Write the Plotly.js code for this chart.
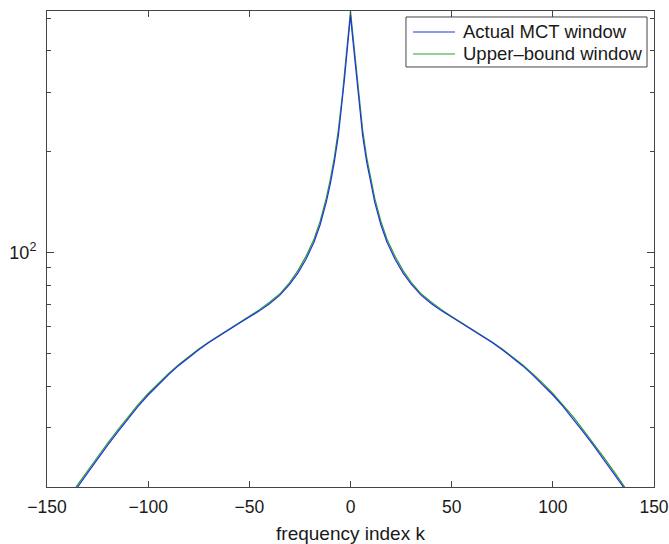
<!DOCTYPE html>
<html>
<head>
<meta charset="utf-8">
<script src="https://cdn.plot.ly/plotly-3.0.1.min.js"></script>
<style>
  html, body { margin: 0; padding: 0; background: #ffffff; }
  #chart { width: 669px; height: 544px; }
</style>
</head>
<body>
<div id="chart"></div>
<script>
// frequency index k (one side; the window is symmetric about k = 0)
const kHalf = [0, 1, 2, 3, 4, 5, 6, 8, 10, 12, 15, 18, 22, 26, 30, 35, 40, 45, 50, 55, 60, 65, 70, 75, 80, 85, 90, 95, 100, 105, 110, 115, 120, 125, 130, 135, 140, 145, 150];
// Actual MCT window magnitude
const actualHalf = [510, 440, 380, 328, 284, 250, 223, 186, 160, 141, 121, 107.5, 95.5, 86.8, 80.5, 74.5, 70.4, 67.0, 64.2, 61.5, 59.0, 56.4, 53.9, 51.3, 48.7, 46.0, 43.2, 40.4, 37.6, 34.8, 32.0, 29.2, 26.65, 24.25, 22.0, 19.95, 18.0, 16.25, 14.6];
// Upper-bound window magnitude
const upperHalf = [525, 457, 395, 341, 295, 260, 232, 192, 165, 145, 124, 109.7, 97.4, 88.3, 81.5, 75.2, 71.1, 67.5, 64.5, 61.8, 59.2, 56.6, 54.1, 51.6, 49.0, 46.3, 43.5, 40.8, 38.0, 35.2, 32.4, 29.6, 27.05, 24.6, 22.35, 20.25, 18.3, 16.5, 14.8];

const seriesNames = ['Actual MCT window', 'Upper\u2013bound window'];
const seriesColors = ['#2430e8', '#2aa02a'];

const yMinorTicks = [20, 30, 40, 50, 60, 70, 80, 90, 200, 300, 400, 500];
const yMajorTicks = [100];
const yMajorLabels = ['10<sup>2</sup>'];
const xTicks = [-150, -100, -50, 0, 50, 100, 150];

function mirrorSeries(ks, vs) {
  const x = [], y = [];
  for (let i = ks.length - 1; i > 0; i--) { x.push(-ks[i]); y.push(vs[i]); }
  for (let i = 0; i < ks.length; i++) { x.push(ks[i]); y.push(vs[i]); }
  return {x, y};
}
const A = mirrorSeries(kHalf, actualHalf);
const U = mirrorSeries(kHalf, upperHalf);

const fontFam = 'Liberation Sans, Arial, Helvetica, sans-serif';
const axisCol = '#444444';
const txtCol = '#1a1a1a';

const traces = [
  {x: U.x, y: U.y, type: 'scatter', mode: 'lines', name: seriesNames[1],
   line: {color: seriesColors[1], width: 1.2}},
  {x: A.x, y: A.y, type: 'scatter', mode: 'lines', name: seriesNames[0],
   line: {color: seriesColors[0], width: 1.2}}
];

// Legend box (MATLAB style), placed in paper coordinates
const legBox = {x0: 0.5914, x1: 0.9885, y0: 0.8824, y1: 0.9874};
const legRows = [0.9559, 0.9097];
const legLineX = [0.6030, 0.6722];
const legTextX = 0.6821;

const shapes = [
  {type: 'rect', xref: 'paper', yref: 'paper', x0: legBox.x0, x1: legBox.x1, y0: legBox.y0, y1: legBox.y1,
   line: {color: axisCol, width: 1}, fillcolor: '#ffffff', layer: 'above'}
];
const annotations = [];
seriesNames.forEach((nm, i) => {
  shapes.push({type: 'line', xref: 'paper', yref: 'paper', x0: legLineX[0], x1: legLineX[1], y0: legRows[i], y1: legRows[i],
    line: {color: seriesColors[i], width: 1.2}, layer: 'above'});
  annotations.push({xref: 'paper', yref: 'paper', x: legTextX, y: legRows[i], xanchor: 'left', yanchor: 'middle',
    text: nm, showarrow: false, font: {family: fontFam, size: 18.5, color: txtCol}});
});

const layout = {
  width: 669, height: 544,
  margin: {l: 47, r: 15, t: 11, b: 57},
  paper_bgcolor: '#ffffff', plot_bgcolor: '#ffffff',
  font: {family: fontFam, size: 17, color: txtCol},
  showlegend: false,
  shapes: shapes,
  annotations: annotations,
  xaxis: {
    range: [-150, 150], tickmode: 'array', tickvals: xTicks,
    ticks: 'inside', ticklen: 6, tickwidth: 1, tickcolor: axisCol,
    showline: true, linecolor: axisCol, linewidth: 1, mirror: 'ticks',
    showgrid: false, zeroline: false, ticklabeloverflow: 'allow',
    ticklabelstandoff: 4,
    tickfont: {family: fontFam, size: 17.5, color: txtCol},
    title: {text: 'frequency index k', font: {family: fontFam, size: 19, color: txtCol}, standoff: 10}
  },
  yaxis: {
    type: 'log', range: [Math.log10(20), 2.72],
    tickmode: 'array', tickvals: yMajorTicks, ticktext: yMajorLabels,
    ticks: 'inside', ticklen: 7, tickwidth: 1, tickcolor: axisCol,
    minor: {tickmode: 'array', tickvals: yMinorTicks, ticks: 'inside', ticklen: 4, tickwidth: 1, tickcolor: axisCol, showgrid: false},
    showline: true, linecolor: axisCol, linewidth: 1, mirror: 'ticks',
    showgrid: false, zeroline: false, ticklabelstandoff: 6,
    tickfont: {family: fontFam, size: 18, color: txtCol}
  }
};

Plotly.newPlot('chart', traces, layout, {displayModeBar: false, staticPlot: true});
</script>
</body>
</html>
